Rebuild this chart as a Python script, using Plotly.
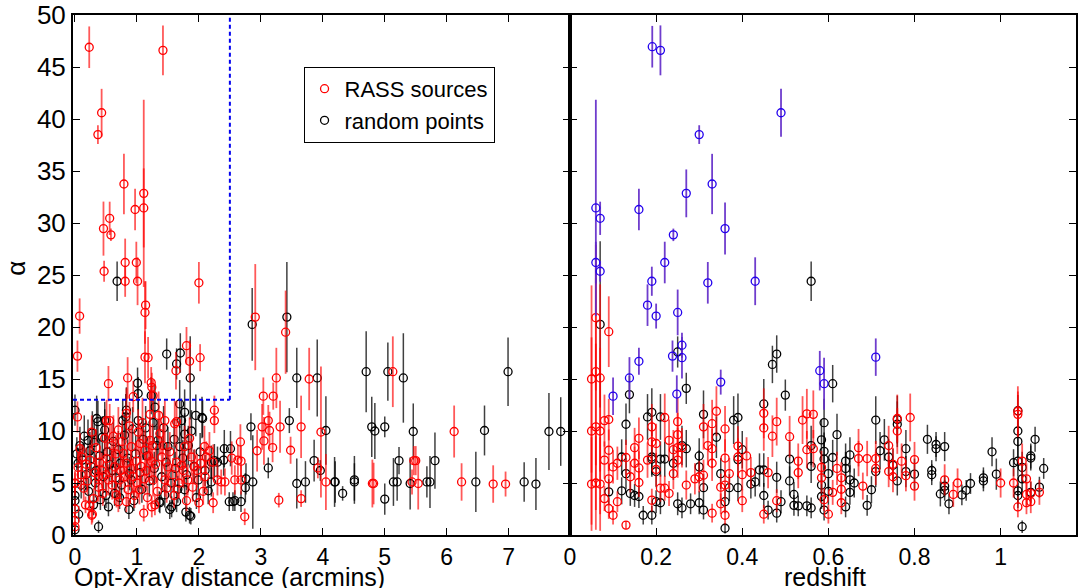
import plotly.graph_objects as go

# ---------------- data: (value_x, alpha, error) ----------------
# Left panel: alpha vs optical-X-ray distance (arcmin)
rass_left = [
    (0.23,46.9,2.0),(1.42,46.6,2.4),(0.43,40.6,2.3),(0.37,38.5,0.9),(0.79,33.75,2.9),
    (1.11,32.85,9.0),(1.11,31.45,3.8),(0.97,31.3,2.0),(0.56,30.45,1.6),(0.46,29.46,2.6),
    (0.58,28.86,0.6),(0.47,25.36,1.0),(0.81,26.2,2.3),(0.99,26.2,2.0),(0.81,24.4,1.5),
    (1.01,24.4,2.3),(2.0,24.25,2.0),(1.14,22.1,2.3),(1.13,21.4,3.0),(0.075,21.05,1.7),
    (0.04,17.2,1.5),(1.8,18.2,1.8),(1.63,15.8,1.8),(1.85,16.7,2.0),(2.02,17.05,1.3),
    (1.13,17.1,2.5),(1.18,17.05,2.0),(0.85,15.1,2.0),(0.54,14.55,1.7),(1.23,14.65,1.5),
    (0.94,13.3,1.5),(1.26,13.4,1.5),(1.24,14.2,1.4),
    (0.0,5.0,1.0),(0.0,4.95,1.2),(0.0,2.5,1.0),(0.0,1.4,0.8),(0.0,0.8,0.6),(0.04,11.35,1.5),
    (0.08,8.3,1.5),(0.11,7.5,1.2),(0.27,9.9,1.6),(0.24,7.2,1.5),(0.17,2.9,0.8),(0.27,1.9,0.9),
    (0.28,2.0,0.8),(0.23,2.8,1.0),(0.38,5.6,1.5),(0.38,4.6,1.4),(0.43,6.2,1.7),(0.51,11.0,2.0),
    (0.51,7.35,1.8),(0.54,5.3,1.5),(0.56,11.0,1.6),(0.59,8.6,2.0),(0.64,6.55,1.6),(0.67,3.85,1.2),
    (0.7,10.1,2.2),(0.72,5.3,1.6),(0.78,7.85,2.0),(0.83,11.7,2.4),(0.83,6.9,1.8),(0.83,3.2,1.0),
    (0.86,4.35,1.4),(0.91,8.5,2.0),(0.94,5.6,1.7),(0.99,7.1,1.8),(1.02,9.9,2.2),(1.04,4.35,1.4),
    (1.11,2.1,0.8),(1.13,8.15,2.0),(1.15,6.2,1.7),(1.21,11.6,2.4),(1.21,9.1,2.2),(1.23,7.1,1.9),
    (1.24,2.7,1.0),(1.26,5.3,1.6),(1.29,2.9,1.0),(1.37,9.75,2.1),(1.4,7.5,1.9),(1.45,5.3,1.6),
    (1.5,6.55,1.8),(1.61,10.7,2.2),(1.64,7.0,1.8),(1.64,10.9,2.0),(1.45,11.0,2.0),(1.72,6.7,1.8),
    (1.77,8.5,2.0),(1.82,5.3,1.5),(1.88,7.5,1.8),(1.93,6.55,1.7),(1.97,6.2,1.6),(2.09,8.5,2.0),
    (2.1,5.6,1.5),(2.17,8.1,1.8),(2.12,7.5,1.5),(2.23,7.0,1.7),(2.23,3.1,1.0),(2.25,12.0,1.4),
    (2.25,11.0,1.2),(2.3,5.3,1.5),(2.42,5.1,1.3),(2.36,5.1,1.2),(2.53,7.4,1.6),(2.58,5.3,1.4),
    (2.63,7.2,1.5),(2.67,8.95,1.7),(2.68,7.1,1.5),(2.68,5.3,1.4),(2.74,1.75,0.8),
    (0.05,6.5,1.5),(0.1,5.8,1.4),(0.14,4.5,1.2),(0.18,6.8,1.6),(0.2,5.2,1.3),(0.3,3.5,1.0),
    (0.32,6.0,1.5),(0.34,8.4,1.8),(0.4,7.0,1.6),(0.45,4.0,1.2),(0.48,9.3,2.0),(0.5,5.8,1.5),
    (0.6,4.8,1.4),(0.62,9.5,2.0),(0.66,7.8,1.8),(0.7,3.2,1.0),(0.74,6.2,1.6),(0.76,9.0,2.0),
    (0.8,5.6,1.5),(0.88,10.5,2.3),(0.9,6.4,1.7),(0.96,3.8,1.2),(1.0,5.0,1.5),(1.05,8.8,2.0),
    (1.07,6.6,1.7),(1.09,10.8,2.4),(1.12,5.4,1.5),(1.17,3.6,1.1),(1.19,7.6,1.9),(1.25,8.6,2.1),
    (1.3,6.8,1.7),(1.33,4.2,1.3),(1.35,11.5,2.3),(1.42,8.6,2.0),(1.48,4.5,1.4),(1.53,8.0,1.9),
    (1.58,5.8,1.6),(1.6,3.8,1.2),(1.68,5.0,1.5),(1.75,6.2,1.7),(1.8,3.3,1.0),(1.85,9.3,2.0),
    (1.9,4.6,1.4),(2.0,3.1,1.0),(2.03,6.9,1.7),(2.07,4.2,1.3),
    (2.91,20.95,5.1),(3.4,19.5,4.0),(3.25,15.1,2.9),(3.04,13.35,1.8),(3.2,13.35,1.3),
    (3.02,10.4,2.2),(3.12,11.0,1.5),(3.14,10.05,1.8),(3.05,9.05,2.3),(2.94,8.1,2.0),
    (3.19,8.4,1.4),(3.31,10.4,2.5),(3.29,3.35,0.7),(3.48,8.15,1.3),(3.65,10.4,3.0),
    (3.65,3.5,0.8),(3.78,15.0,3.0),(3.97,9.9,6.3),(3.92,6.45,1.0),(4.05,5.1,2.7),
    (4.8,4.95,2.3),(4.82,4.95,2.0),(5.13,15.7,3.4),(5.47,7.15,1.4),(5.5,7.15,1.4),
    (5.54,4.95,2.5),(5.44,5.1,1.2),(6.12,9.95,2.5),(6.24,5.1,1.8),(6.75,4.9,1.8),(6.95,4.9,1.2),
]

random_left = [
    (0.68,24.4,1.9),(2.86,20.25,3.5),(1.48,17.4,1.5),(1.7,17.5,1.9),(1.64,16.45,1.5),
    (1.86,15.1,4.0),(1.01,14.6,1.5),(1.02,13.6,1.6),(3.42,20.95,5.3),
    (0.0,12.0,1.5),(0.0,3.8,1.0),(0.0,3.3,1.0),(0.0,0.5,0.5),(0.06,2.0,0.8),(0.08,8.6,1.8),
    (0.05,6.9,1.5),(0.38,0.8,0.6),(0.21,9.1,2.0),(0.24,8.1,1.8),(0.35,11.2,2.2),(0.37,10.9,2.0),
    (0.34,6.2,1.5),(0.48,10.1,2.0),(0.48,11.0,1.8),(0.54,2.7,0.9),(0.41,3.4,1.0),(0.6,6.2,1.6),
    (0.64,4.0,1.2),(0.73,6.9,1.7),(0.77,11.0,2.0),(0.82,11.35,2.2),(0.83,12.0,2.2),(0.87,2.45,0.9),
    (0.91,5.3,1.5),(1.02,11.0,2.0),(1.14,10.3,2.1),(1.23,13.4,1.8),(1.26,10.8,2.1),(1.29,12.3,2.2),
    (1.34,9.1,2.0),(1.36,3.2,1.0),(1.37,3.1,1.0),(1.45,3.85,1.2),(1.5,8.5,1.9),(1.53,2.45,0.9),
    (1.56,2.7,1.0),(1.64,3.2,1.0),(1.69,12.6,2.3),(1.72,11.0,2.1),(1.77,11.8,2.2),(1.69,8.5,2.0),
    (1.77,9.7,2.0),(1.77,4.35,1.3),(1.79,2.2,0.9),(1.85,1.9,0.8),(1.87,1.8,0.8),(1.88,10.0,2.0),
    (1.95,11.5,2.0),(2.05,11.3,2.0),(2.06,11.2,1.8),(1.99,5.3,1.5),(2.2,7.0,1.6),(2.25,7.15,1.6),
    (2.3,7.0,1.5),(2.41,8.3,1.8),(2.51,8.3,1.7),(2.4,7.2,1.5),(2.15,4.25,1.3),(2.2,5.1,1.4),
    (2.49,3.2,0.9),(2.55,3.2,0.9),(2.58,3.3,1.0),(2.68,3.2,1.0),(2.76,5.4,1.5),(2.75,4.55,1.4),
    (2.87,5.1,4.5),(2.84,10.4,1.3),
    (0.03,7.8,1.6),(0.1,4.8,1.3),(0.12,7.2,1.6),(0.15,9.5,2.0),(0.18,5.8,1.5),(0.22,4.2,1.2),
    (0.26,6.6,1.6),(0.28,9.8,2.1),(0.3,2.9,1.0),(0.31,8.9,1.9),(0.33,5.0,1.4),(0.4,7.6,1.7),
    (0.44,9.4,2.0),(0.46,5.6,1.5),(0.5,3.8,1.2),(0.52,8.0,1.8),(0.56,6.8,1.7),(0.62,9.0,1.9),
    (0.66,5.5,1.5),(0.7,8.2,1.8),(0.72,3.6,1.1),(0.75,4.8,1.4),(0.8,9.6,2.0),(0.85,7.4,1.8),
    (0.88,5.9,1.6),(0.93,10.2,2.1),(0.95,3.3,1.0),(0.98,7.8,1.8),(1.05,6.0,1.6),(1.08,4.4,1.3),
    (1.1,9.2,2.0),(1.16,7.6,1.8),(1.2,5.2,1.5),(1.28,6.4,1.6),(1.32,8.6,1.9),(1.4,5.6,1.5),
    (1.43,10.3,2.1),(1.47,7.0,1.7),(1.55,5.0,1.4),(1.6,9.2,2.0),(1.62,6.4,1.6),(1.66,4.4,1.3),
    (1.74,7.4,1.7),(1.8,5.8,1.5),(1.83,8.6,1.9),(1.92,6.6,1.6),(1.96,3.6,1.1),(2.02,8.0,1.8),
    (2.1,6.2,1.5),
    (3.12,6.45,1.0),(3.46,11.0,1.2),(3.58,15.1,2.9),(3.58,4.95,2.4),(3.72,5.1,2.0),(3.91,15.1,3.7),
    (3.86,7.15,2.0),(3.96,6.2,1.0),(4.05,10.05,3.3),(4.19,5.1,2.4),(4.2,5.1,2.0),(4.32,4.0,0.7),
    (4.51,5.3,2.3),(4.51,5.1,1.8),(4.7,15.7,3.9),(4.79,10.4,2.9),(4.84,10.0,2.7),(5.0,10.4,1.0),
    (5.0,3.45,1.5),(5.05,15.7,2.8),(5.14,5.1,2.3),(5.2,5.1,1.8),(5.23,7.15,1.3),(5.3,15.1,4.3),
    (5.41,4.95,2.5),(5.46,9.95,2.7),(5.68,5.1,1.5),(5.73,5.1,2.5),(5.81,7.15,2.7),(6.47,5.1,2.9),
    (6.61,10.05,2.4),(6.99,15.7,3.3),(7.25,5.1,1.9),(7.44,4.9,2.5),(7.65,9.95,3.7),(7.84,9.95,3.3),
]

# Right panel: alpha vs redshift
selected_right = [
    (0.191,46.95,2.0),(0.21,46.6,2.4),(0.49,40.6,2.3),(0.30,38.5,0.9),(0.27,32.85,2.3),
    (0.33,33.75,2.9),(0.06,31.45,10.4),(0.07,30.45,1.6),(0.16,31.3,2.0),(0.36,29.46,2.5),
    (0.24,28.86,0.6),(0.06,26.2,2.0),(0.07,25.36,1.0),(0.22,26.2,2.0),(0.19,24.4,1.4),
    (0.32,24.25,2.0),(0.43,24.4,2.3),(0.18,22.1,2.0),(0.20,21.05,1.2),(0.25,21.4,2.2),
    (0.238,17.2,1.5),(0.26,18.25,1.2),(0.26,17.05,2.0),(0.16,16.7,1.3),(0.71,17.1,1.8),
    (0.58,15.8,1.9),(0.59,14.55,2.5),(0.138,15.1,2.0),(0.10,13.35,1.8),(0.248,13.55,1.8),
    (0.35,14.7,1.2),
]

rass_right = [
    (0.05,15.0,9.0),(0.06,15.7,9.0),(0.07,15.1,9.0),(0.05,10.0,9.0),(0.06,10.4,8.0),
    (0.07,10.0,8.0),(0.05,4.9,4.5),(0.06,5.0,4.5),(0.07,4.9,4.5),(0.06,20.9,7.0),(0.09,19.55,3.4),
    (0.08,11.0,2.5),(0.09,11.1,2.0),(0.09,8.15,2.0),(0.08,7.2,1.8),(0.1,6.55,1.6),(0.09,5.4,1.5),
    (0.08,3.5,1.2),(0.09,2.55,1.0),(0.1,1.9,0.9),(0.11,3.2,1.0),(0.11,6.9,1.6),(0.13,0.95,0.4),
    (0.13,7.45,1.7),(0.14,5.6,1.5),(0.15,8.4,1.9),(0.16,9.3,2.0),(0.15,6.9,1.6),(0.16,6.45,1.6),
    (0.16,5.05,1.4),(0.18,7.2,1.7),(0.19,8.95,2.0),(0.19,10.4,2.2),(0.19,3.35,1.1),(0.2,8.8,1.9),
    (0.2,6.3,1.6),(0.21,4.5,1.3),(0.22,11.3,2.3),(0.22,4.5,1.2),(0.23,9.1,2.0),(0.23,4.0,1.2),
    (0.24,8.2,1.9),(0.24,5.9,1.5),(0.25,10.9,2.3),(0.25,9.65,2.1),(0.25,8.4,1.9),(0.25,7.2,1.7),
    (0.26,8.4,1.9),(0.27,4.8,1.4),(0.29,5.4,1.5),(0.3,5.6,1.5),(0.31,5.75,1.5),(0.31,10.4,2.2),
    (0.32,8.6,1.9),(0.33,10.7,2.3),(0.33,8.3,1.9),(0.33,6.9,1.7),(0.33,2.1,0.9),(0.34,11.9,2.4),
    (0.35,4.6,1.3),(0.35,3.0,1.0),(0.36,10.2,2.2),(0.36,7.4,1.8),(0.36,4.8,1.4),(0.36,1.9,0.9),
    (0.37,5.9,1.5),(0.39,8.55,1.9),(0.39,7.5,1.8),(0.4,5.8,1.5),(0.4,3.3,1.1),(0.41,7.6,1.8),
    (0.42,6.0,1.5),(0.45,11.7,2.4),(0.45,10.3,2.2),(0.45,2.0,0.9),(0.46,6.0,1.5),(0.47,9.5,2.0),
    (0.48,10.9,2.3),(0.48,3.3,1.1),(0.51,9.45,2.0),(0.53,6.0,1.5),(0.53,7.1,1.7),(0.54,11.05,2.3),
    (0.55,8.2,1.8),(0.55,11.65,2.4),(0.565,11.6,2.3),(0.565,8.3,1.8),(0.584,6.5,1.6),(0.584,5.5,1.5),
    (0.6,2.0,0.9),(0.59,3.4,1.1),(0.61,4.1,1.2),(0.62,6.4,1.6),(0.63,5.5,1.5),(0.63,4.4,1.3),
    (0.63,3.1,1.1),(0.67,8.4,1.8),(0.67,7.35,1.7),(0.68,4.7,1.3),(0.69,7.35,1.7),(0.71,7.35,1.7),
    (0.71,6.4,1.6),(0.74,8.6,1.9),(0.74,6.1,1.5),(0.75,6.8,1.6),(0.75,5.6,1.5),(0.76,11.2,2.3),
    (0.76,10.0,2.2),(0.77,7.1,1.7),(0.78,5.7,1.5),(0.79,11.3,2.3),(0.8,7.25,1.7),(0.8,4.7,1.4),
    (0.87,5.3,1.5),(0.89,3.9,1.2),(0.9,5.0,1.4),(1.0,5.0,1.4),(1.03,5.0,1.4),(1.04,11.9,2.4),
    (1.04,11.6,2.2),(1.05,7.1,1.7),(1.04,2.7,1.0),(1.06,5.4,1.5),(1.06,3.9,1.2),(1.07,4.0,1.2),
    (1.06,3.1,1.1),(1.07,3.2,1.1),(1.09,4.1,1.2),
]

random_right = [
    (0.56,24.4,1.9),(0.47,16.4,1.8),(0.48,17.4,1.8),(0.25,17.6,1.5),(0.07,20.25,8.0),
    (0.61,14.55,1.8),(0.5,13.45,1.5),(0.27,14.1,1.5),(0.138,13.5,1.8),(0.13,10.65,2.0),
    (0.12,7.5,1.7),(0.13,5.9,1.5),(0.12,4.25,1.3),(0.09,4.15,1.2),(0.14,4.0,1.2),(0.15,3.8,1.1),
    (0.16,3.7,1.1),(0.17,1.9,0.9),(0.19,1.9,0.9),(0.18,11.35,2.2),(0.19,11.8,2.3),(0.21,11.35,2.2),
    (0.19,7.5,1.7),(0.2,6.1,1.5),(0.19,7.3,1.7),(0.21,7.3,1.7),(0.22,7.3,1.7),(0.2,3.2,1.1),
    (0.21,3.1,1.1),(0.24,6.9,1.6),(0.26,8.6,1.9),(0.27,8.3,1.8),(0.25,3.0,1.1),(0.26,2.6,1.0),
    (0.28,3.0,1.0),(0.3,3.1,1.1),(0.3,7.6,1.7),(0.3,6.55,1.6),(0.31,4.55,1.3),(0.31,2.4,0.9),
    (0.31,11.6,2.3),(0.34,9.4,2.0),(0.35,5.9,1.5),(0.36,0.65,0.5),(0.36,3.2,1.1),(0.37,4.55,1.3),
    (0.38,11.05,2.3),(0.39,11.3,2.3),(0.39,7.25,1.7),(0.39,4.55,1.3),(0.4,8.2,1.8),(0.42,4.9,1.4),
    (0.43,5.1,1.4),(0.44,6.25,1.6),(0.45,6.25,1.6),(0.45,12.6,2.4),(0.45,3.8,1.2),(0.46,2.4,0.9),
    (0.48,2.1,0.9),(0.48,5.55,1.5),(0.49,3.2,1.1),(0.51,7.3,1.7),(0.51,5.2,1.4),(0.52,3.9,1.2),
    (0.53,2.8,1.0),(0.52,2.85,1.0),(0.55,2.8,1.0),(0.56,8.6,1.9),(0.56,6.6,1.6),(0.56,2.6,1.0),
    (0.59,10.8,2.3),(0.584,9.15,2.0),(0.59,8.05,1.8),(0.59,7.3,1.7),(0.62,9.65,2.0),(0.61,7.45,1.7),
    (0.6,5.9,1.5),(0.584,4.8,1.4),(0.584,3.7,1.2),(0.59,2.4,1.0),(0.6,4.2,1.3),(0.64,7.1,1.7),
    (0.65,7.7,1.7),(0.64,6.4,1.6),(0.65,5.3,1.4),(0.66,5.0,1.4),(0.65,4.1,1.2),(0.64,2.7,1.0),
    (0.69,2.85,1.0),(0.7,4.35,1.3),(0.71,11.05,2.3),(0.71,6.1,1.5),(0.72,8.1,1.8),(0.73,9.15,2.0),
    (0.74,7.5,1.7),(0.75,6.7,1.6),(0.76,10.65,2.2),(0.76,11.1,2.3),(0.76,5.2,1.4),(0.78,8.3,1.8),
    (0.78,6.1,1.5),(0.8,5.85,1.5),(0.83,9.2,1.4),(0.84,6.2,1.0),(0.84,5.8,1.0),(0.85,8.7,1.2),
    (0.85,8.3,1.2),(0.87,8.5,1.4),(0.86,3.95,1.2),(0.87,4.7,1.0),(0.87,4.3,1.0),(0.88,3.0,1.0),
    (0.91,3.85,1.0),(0.92,4.3,1.0),(0.93,4.95,1.0),(0.96,5.5,1.0),(0.96,5.2,1.0),(0.98,8.0,1.4),
    (0.99,5.85,1.5),(1.03,6.95,1.3),(1.04,7.1,1.5),(1.04,11.95,1.5),(1.04,10.0,1.5),(1.04,9.0,1.5),
    (1.05,6.5,1.5),(1.05,5.4,1.5),(1.04,4.25,1.3),(1.04,3.8,1.2),(1.05,0.8,0.6),(1.07,7.4,1.2),
    (1.07,7.6,1.2),(1.08,9.2,1.2),(1.1,6.4,1.0),(1.09,4.6,1.0),(1.07,4.1,1.0),
]

left_ticks = [0, 1, 2, 3, 4, 5, 6, 7]
right_ticks = [0, 0.2, 0.4, 0.6, 0.8, 1]
right_ticktext = ["0", "0.2", "0.4", "0.6", "0.8", "1"]
alpha_ticks = [0, 5, 10, 15, 20, 25, 30, 35, 40, 45, 50]
box_dist = 2.5
box_alpha = 13

FONT = "Liberation Sans, Arial, sans-serif"


def trace(data, xa, ya, mcolor, ecolor, name, show, ethick):
    xs, ys, es = zip(*data)
    return go.Scatter(
        x=list(xs), y=list(ys), xaxis=xa, yaxis=ya, mode="markers", name=name,
        showlegend=show,
        marker=dict(symbol="circle-open", size=8, color=mcolor, line=dict(width=1.3, color=mcolor)),
        error_y=dict(type="data", array=list(es), visible=True, color=ecolor,
                     thickness=ethick, width=0),
    )


fig = go.Figure()
fig.add_trace(trace(random_left, "x", "y", "black", "rgba(0,0,0,0.75)", "random points", False, 1.5))
fig.add_trace(trace(rass_left, "x", "y", "#ff0000", "rgba(255,0,0,0.65)", "RASS sources", True, 1.8))
fig.add_trace(trace(random_right, "x2", "y2", "black", "rgba(0,0,0,0.75)", "random points", False, 1.5))
fig.add_trace(trace(rass_right, "x2", "y2", "#ff0000", "rgba(255,0,0,0.65)", "RASS sources", False, 1.8))
fig.add_trace(trace(selected_right, "x2", "y2", "#2200ee", "rgba(95,40,200,0.9)", "selected", False, 1.8))
# legend entry for the random points
fig.add_trace(go.Scatter(x=[None], y=[None], mode="markers", name="random points",
                         marker=dict(symbol="circle-open", size=8, color="black",
                                     line=dict(width=1.3, color="black")),
                         xaxis="x", yaxis="y", showlegend=True))

split = (571 - 73) / 1005

axis_common = dict(ticks="inside", ticklen=7, tickwidth=1.3, tickcolor="black",
                   showline=True, linecolor="black", linewidth=2, mirror="ticks",
                   showgrid=False, zeroline=False, ticklabeloverflow="allow")

fig.update_layout(
    width=1078, height=588,
    margin=dict(l=73, r=0, t=14, b=53),
    paper_bgcolor="white", plot_bgcolor="white",
    font=dict(family=FONT, color="black"),
    xaxis=dict(domain=[0, split], range=[-0.032, 7.99], tickvals=left_ticks,
               tickfont=dict(size=23), anchor="y", **axis_common),
    yaxis=dict(domain=[0, 1], range=[0, 50], tickvals=alpha_ticks,
               tickfont=dict(size=26), anchor="x", **axis_common),
    xaxis2=dict(domain=[split, 1], range=[0, 1.175], tickvals=right_ticks, ticktext=right_ticktext,
                tickfont=dict(size=23), anchor="y2", **axis_common),
    yaxis2=dict(domain=[0, 1], range=[0, 50], tickvals=alpha_ticks, showticklabels=False,
                anchor="x2", **axis_common),
    legend=dict(x=(304 - 73) / 1005, y=(535 - 66) / 521, xanchor="left", yanchor="top",
                bgcolor="white", bordercolor="black", borderwidth=1,
                font=dict(size=22, family=FONT), tracegroupgap=0),
    showlegend=True,
)

# dashed selection box in left panel
fig.add_shape(type="line", xref="x", yref="y", x0=box_dist, x1=box_dist, y0=box_alpha, y1=50,
              line=dict(color="#0000ee", width=2, dash="4px,3px"))
fig.add_shape(type="line", xref="x", yref="y", x0=-0.032, x1=box_dist, y0=box_alpha, y1=box_alpha,
              line=dict(color="#0000ee", width=2, dash="4px,3px"))
# thick divider between the panels
fig.add_shape(type="line", xref="paper", yref="paper", x0=split, x1=split, y0=0, y1=1,
              line=dict(color="black", width=3))

fig.add_annotation(text="Opt-Xray distance (arcmins)", xref="paper", yref="paper",
                   x=(230 - 73) / 1005, y=-0.05, xanchor="center", yanchor="top",
                   showarrow=False, font=dict(size=25, family=FONT))
fig.add_annotation(text="redshift", xref="paper", yref="paper",
                   x=(827 - 73) / 1005, y=-0.05, xanchor="center", yanchor="top",
                   showarrow=False, font=dict(size=25, family=FONT))
fig.add_annotation(text="α", xref="paper", yref="paper",
                   x=(15 - 73) / 1005, y=(535 - 268) / 521, xanchor="center", yanchor="middle",
                   textangle=-90, showarrow=False, font=dict(size=26, family=FONT))

fig.write_html("out.html")
